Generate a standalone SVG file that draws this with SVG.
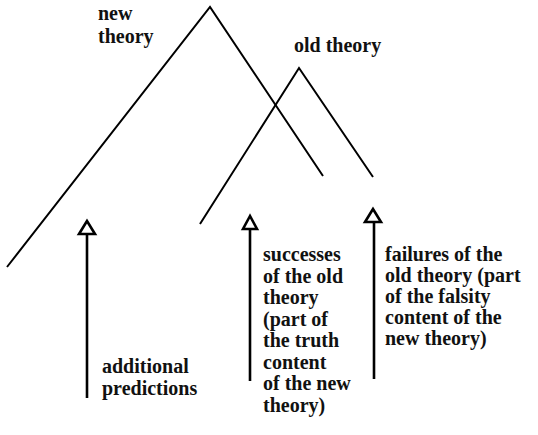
<svg xmlns="http://www.w3.org/2000/svg" width="538" height="435" viewBox="0 0 538 435" font-family="Liberation Serif, Times New Roman, serif" font-size="20" font-weight="bold">
<style>
.tree{fill:none;stroke:#000;stroke-width:2}
.shaft{fill:none;stroke:#000;stroke-width:2.6}
.head{fill:#fff;stroke:#000;stroke-width:2.6;stroke-linejoin:miter}
.t{fill:#111}
</style>
<rect width="538" height="435" fill="#ffffff"/>
<g id="new-theory">
<polyline class="tree" points="7,267 210,7 323,176"/>
<text class="t" x="98" y="20">new</text>
<text class="t" x="98" y="43">theory</text>
</g>
<g id="old-theory">
<polyline class="tree" points="200,224 299,68 373,177"/>
<text class="t" x="294" y="52">old theory</text>
</g>
<g id="connectors">
<line class="shaft" x1="87" y1="234" x2="87" y2="398"/>
<polygon class="head" points="87,221 79,234 95,234"/>
<line class="shaft" x1="250" y1="229" x2="250" y2="381"/>
<polygon class="head" points="250,216 243,229 257,229"/>
<line class="shaft" x1="374" y1="222" x2="374" y2="379"/>
<polygon class="head" points="373,209 365,222 381,222"/>
</g>
<g id="additional-predictions">
<text class="t" x="102" y="373">additional</text>
<text class="t" x="102" y="395">predictions</text>
</g>
<g id="successes">
<text class="t" x="263" y="261">successes</text>
<text class="t" x="263" y="282.5">of the old</text>
<text class="t" x="263" y="304">theory</text>
<text class="t" x="263" y="325.5">(part of</text>
<text class="t" x="263" y="347">the truth</text>
<text class="t" x="263" y="368.5">content</text>
<text class="t" x="263" y="390">of the new</text>
<text class="t" x="263" y="411.5">theory)</text>
</g>
<g id="failures">
<text class="t" x="385" y="261">failures of the</text>
<text class="t" x="385" y="282">old theory (part</text>
<text class="t" x="385" y="303">of the falsity</text>
<text class="t" x="385" y="324">content of the</text>
<text class="t" x="385" y="345">new theory)</text>
</g>
</svg>
